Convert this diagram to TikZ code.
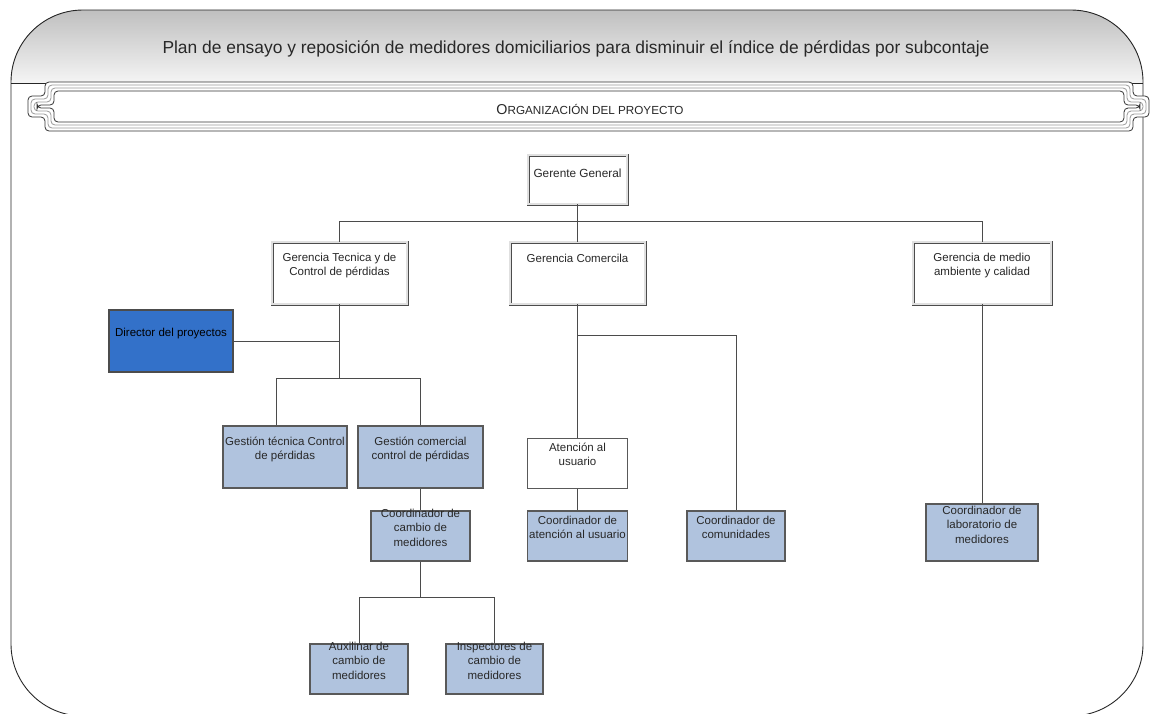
\documentclass[tikz,border=0pt]{standalone}
\usepackage{fontspec}
\setmainfont{Liberation Sans}
\usetikzlibrary{calc}
\definecolor{lblue}{RGB}{176,195,222}
\definecolor{dblue}{RGB}{51,113,201}
\definecolor{edgec}{RGB}{75,75,75}
\definecolor{txtc}{RGB}{40,40,40}
\begin{document}
\begin{tikzpicture}[x=1pt,y=-1pt,
  conn/.style={draw=edgec,line width=0.9pt},
  dbox/.style={draw=black!70,line width=0.7pt,double=black!12,double distance=1.6pt,fill=white,inner sep=0pt},
  wbox/.style={draw=black!65,line width=1pt,fill=white,inner sep=0pt},
  lbox/.style={draw=black!65,line width=1.1pt,fill=lblue,inner sep=0pt},
  bbox/.style={draw=black!70,line width=1.1pt,fill=dblue,inner sep=0pt},
  txt/.style={font=\fontsize{11.5}{14.3}\selectfont,align=center,inner sep=0pt,text=txtc,anchor=north},
  frame/.style={draw=black!85,line width=0.9pt},
  bline/.style={line width=0.8pt,rounded corners=4pt}]
\useasboundingbox (0,0) rectangle (1150,713);
\clip (0,0) rectangle (1150,713);
% outer frame and header
\begin{scope}
  \clip[rounded corners=72pt] (11,10) rectangle (1143,716);
  \fill[top color=black!25,bottom color=black!4] (11,10) rectangle (1143,83);
\end{scope}
\draw[frame,rounded corners=72pt] (11,10) rectangle (1143,716);
\draw[frame] (11,83) -- (1143,83);
\node[anchor=base,font=\fontsize{17.4}{17.4}\selectfont,text=txtc,inner sep=0pt] (title) at (576,53)
  {Plan de ensayo y reposición de medidores domiciliarios para disminuir el índice de pérdidas por subcontaje};
% banner
\fill[white,rounded corners=4pt] (45,82) -- (1133,82) -- (1133,96) -- (1149,96) -- (1149,117) -- (1133,117) -- (1133,131) -- (45,131) -- (45,117) -- (28,117) -- (28,96) -- (45,96) -- cycle;
\foreach \d/\c in {0/black!80,3/black!40,6/black!40,9/black!80}{
  \draw[bline,draw=\c] (45+\d,82+\d) -- (1133-\d,82+\d) -- (1133-\d,96+\d) -- (1149-\d,96+\d) -- (1149-\d,117-\d) -- (1133-\d,117-\d) -- (1133-\d,131-\d) -- (45+\d,131-\d) -- (45+\d,117-\d) -- (28+\d,117-\d) -- (28+\d,96+\d) -- (45+\d,96+\d) -- cycle;
}
\node[anchor=base,inner sep=0pt,text=txtc] (banner) at (590,114)
  {{\fontsize{14.3}{14}\selectfont O}{\fontsize{11.7}{12}\selectfont RGANIZACIÓN DEL PROYECTO}};
% boxes
\node[dbox,minimum width=99pt,minimum height=49pt] (gg) at (577.5,179.5) {};
\node[dbox,minimum width=135pt,minimum height=62pt] (gt) at (339.5,273) {};
\node[dbox,minimum width=135pt,minimum height=62pt] (gc) at (577.5,273) {};
\node[dbox,minimum width=138pt,minimum height=62pt] (gm) at (982,273) {};
\node[bbox,minimum width=124pt,minimum height=62pt] (dir) at (171,341) {};
\node[lbox,minimum width=124pt,minimum height=62pt] (gst) at (285,457) {};
\node[lbox,minimum width=125pt,minimum height=62pt] (gsc) at (420.5,457) {};
\node[lbox,minimum width=99pt,minimum height=50pt] (cc) at (420.5,536) {};
\node[lbox,minimum width=98pt,minimum height=50pt] (aux) at (359,669) {};
\node[lbox,minimum width=97pt,minimum height=50pt] (insp) at (494.5,669) {};
\node[wbox,minimum width=100pt,minimum height=50pt] (at) at (577.5,463) {};
\node[lbox,minimum width=100pt,minimum height=50pt] (ca) at (577.5,536) {};
\node[lbox,minimum width=98pt,minimum height=50pt] (com) at (736,536) {};
\node[lbox,minimum width=112pt,minimum height=57pt] (lab) at (982,532.5) {};
% connectors
\draw[conn] (gg.south) -- (gc.north);
\coordinate (bus1) at ($(gg.south)+(0,17)$);
\draw[conn] (gt.north) -- (gt.north |- bus1) -- (gm.north |- bus1) -- (gm.north);
\coordinate (bus2) at ($(gt.south)+(0,74)$);
\draw[conn] (gt.south) -- (bus2);
\draw[conn] (dir.east) -- (dir.east -| gt.south);
\coordinate (gstIn) at ([xshift=-9pt]gst.north);
\draw[conn] (gstIn) |- (bus2) -| (gsc.north);
\draw[conn] (gsc.south) -- (cc.north);
\coordinate (bus3) at ($(cc.south)+(0,36)$);
\draw[conn] (cc.south) -- (bus3);
\draw[conn] (aux.north) |- (bus3) -| (insp.north);
\draw[conn] (gc.south) -- (at.north);
\coordinate (bus4) at ($(gc.south)+(0,31)$);
\draw[conn] (bus4) -| (com.north);
\draw[conn] (at.south) -- (ca.north);
\draw[conn] (gm.south) -- (lab.north);
% texts
\node[txt,font=\fontsize{11.8}{14.3}\selectfont] (ggT) at (577.5,169) {Gerente General};
\node[txt] (gtT) at (339.5,253) {Gerencia Tecnica y de\\Control de pérdidas};
\node[txt] (gcT) at (577.5,254) {Gerencia Comercila};
\node[txt] (gmT) at (982,253) {Gerencia de medio\\ambiente y calidad};
\node[txt,text=black] (dirT) at (171,328) {Director del proyectos};
\node[txt] (gstT) at (285,437) {Gestión técnica Control\\de pérdidas};
\node[txt] (gscT) at (420.5,437) {Gestión comercial\\control de pérdidas};
\node[txt] (ccT) at (420.5,509) {Coordinador de\\cambio de\\medidores};
\node[txt] (auxT) at (359,642) {Auxilinar de\\cambio de\\medidores};
\node[txt] (inspT) at (494.5,642) {Inspectores de\\cambio de\\medidores};
\node[txt] (atT) at (577.5,443) {Atención al\\usuario};
\node[txt] (caT) at (577.5,516) {Coordinador de\\atención al usuario};
\node[txt] (comT) at (736,516) {Coordinador de\\comunidades};
\node[txt] (labT) at (982,506) {Coordinador de\\laboratorio de\\medidores};
\end{tikzpicture}
\end{document}
